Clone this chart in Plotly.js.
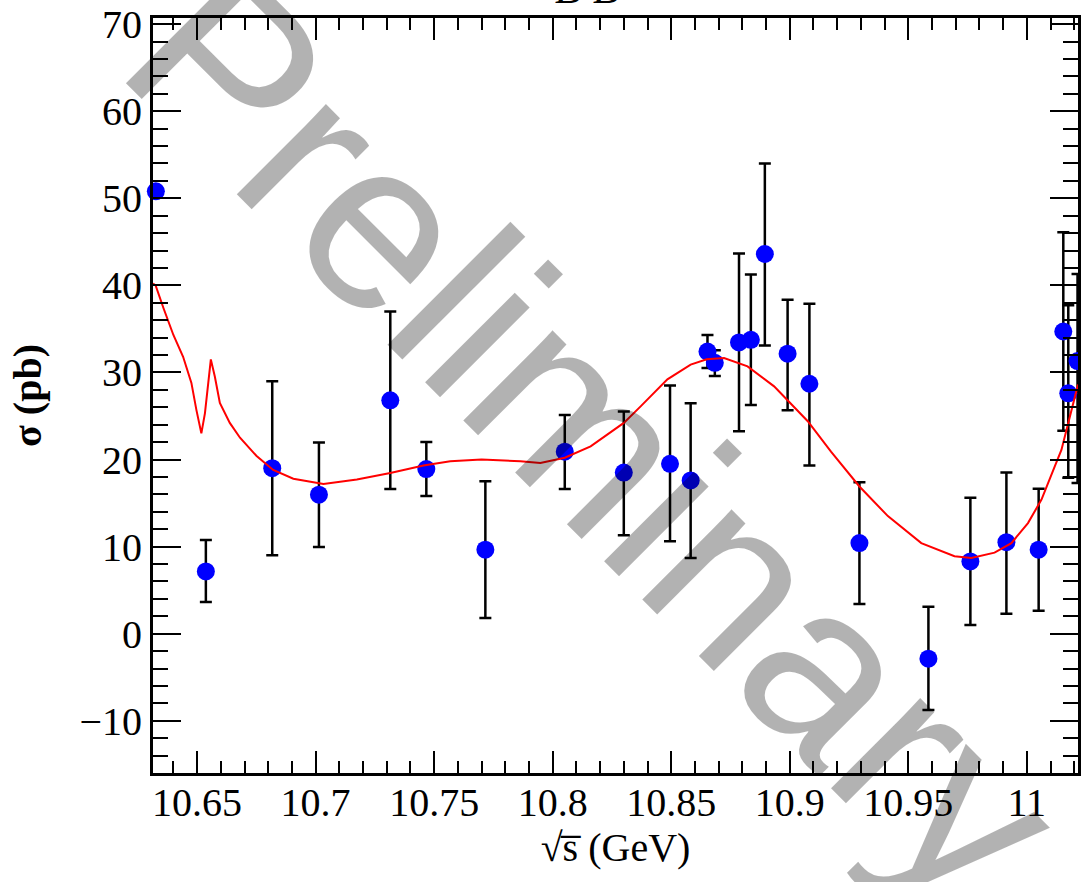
<!DOCTYPE html>
<html>
<head>
<meta charset="utf-8">
<script src="https://cdn.plot.ly/plotly-3.0.1.min.js"></script>
<style>html,body{margin:0;padding:0;background:#fff;}#chart{width:1081px;height:882px;}</style>
</head>
<body>
<div id="chart"></div>
<script>
// measured data points (sqrt(s) in GeV, sigma in pb)
const energy = [10.6326, 10.6537, 10.6817, 10.7014, 10.7315, 10.7467, 10.7716, 10.8051, 10.8300, 10.8495, 10.8582, 10.8653, 10.8684, 10.8786, 10.8836, 10.8895, 10.8991, 10.9083, 10.9294, 10.9585, 10.9762, 10.9914, 11.0050, 11.0154, 11.0175, 11.0214];
const sigma = [50.8, 7.15, 19.0, 15.96, 26.8, 18.9, 9.64, 20.9, 18.5, 19.5, 17.6, 32.4, 31.1, 33.45, 33.75, 43.6, 32.15, 28.7, 10.4, -2.87, 8.3, 10.5, 9.64, 34.7, 27.6, 31.3];
const errPlus = [0, 3.6, 10.0, 6.0, 10.2, 3.1, 7.85, 4.2, 7.0, 9.0, 8.85, 1.9, 1.45, 10.2, 7.5, 10.4, 6.2, 9.2, 7.0, 5.95, 7.3, 8.0, 7.0, 11.4, 10.1, 10.0];
const errMinus = [0, 3.5, 10.0, 6.0, 10.2, 3.1, 7.85, 4.3, 7.2, 8.9, 8.9, 1.9, 1.5, 10.2, 7.5, 10.5, 6.5, 9.4, 7.0, 5.9, 7.3, 8.2, 7.0, 11.4, 9.7, 14.0];

// fit curve
const fitX = [10.6314, 10.6325, 10.6358, 10.6400, 10.6441, 10.6476, 10.6497, 10.6518, 10.6533, 10.6547, 10.6558, 10.6575, 10.6596, 10.6638, 10.6681, 10.6751, 10.6821, 10.6906, 10.7033, 10.7174, 10.7315, 10.7455, 10.7568, 10.7700, 10.7864, 10.7948, 10.8051, 10.8160, 10.8300, 10.8371, 10.8484, 10.8582, 10.8650, 10.8723, 10.8822, 10.8934, 10.9076, 10.9174, 10.9294, 10.9414, 10.9555, 10.9695, 10.9766, 10.9864, 10.9935, 11.0005, 11.0062, 11.0118, 11.0146, 11.0216];
const fitY = [40.2, 40.0, 37.4, 34.3, 31.8, 28.8, 25.7, 23.0, 25.3, 28.8, 31.5, 29.5, 26.5, 24.2, 22.5, 20.4, 18.8, 17.8, 17.2, 17.7, 18.45, 19.3, 19.8, 20.0, 19.8, 19.6, 20.2, 21.5, 24.2, 26.1, 29.2, 30.9, 31.5, 31.65, 30.7, 28.4, 24.4, 20.9, 16.9, 13.5, 10.4, 8.9, 8.7, 9.3, 10.4, 12.7, 15.4, 19.2, 21.1, 28.6];

const serif = "Liberation Serif, Times New Roman, serif";

const traces = [
  {
    x: energy, y: sigma, type: 'scatter', mode: 'markers',
    marker: {color: '#0000ff', size: 18, symbol: 'circle'},
    error_y: {type: 'data', symmetric: false, array: errPlus, arrayminus: errMinus,
              color: '#000000', thickness: 2.5, width: 6},
    cliponaxis: false, showlegend: false, hoverinfo: 'skip'
  },
  {
    x: fitX, y: fitY, type: 'scatter', mode: 'lines',
    line: {color: '#ff0000', width: 2}, showlegend: false, hoverinfo: 'skip'
  }
];

const layout = {
  width: 1081, height: 882,
  margin: {l: 153, r: 3, t: 18, b: 109, pad: 0},
  paper_bgcolor: '#ffffff', plot_bgcolor: '#ffffff',
  font: {family: serif, size: 40, color: '#000'},
  showlegend: false,
  xaxis: {
    range: [10.6314, 11.0216], autorange: false,
    tickmode: 'linear', tick0: 10.65, dtick: 0.05,
    ticks: 'inside', ticklen: 22, tickwidth: 2, tickcolor: '#000',
    minor: {dtick: 0.01, ticks: 'inside', ticklen: 12, tickwidth: 2, tickcolor: '#000'},
    showline: true, linecolor: '#000', linewidth: 3, mirror: 'allticks',
    showgrid: false, zeroline: false, ticklabelstandoff: -8,
    tickfont: {family: serif, size: 40, color: '#000'},
    title: {text: '√s̅ (GeV)', font: {family: serif, size: 40, color: '#000'}, standoff: 4}
  },
  yaxis: {
    range: [-16.0, 70.7], autorange: false,
    tickmode: 'linear', tick0: 0, dtick: 10,
    ticks: 'inside', ticklen: 28, tickwidth: 2, tickcolor: '#000',
    minor: {dtick: 2, ticks: 'inside', ticklen: 15, tickwidth: 2, tickcolor: '#000'},
    showline: true, linecolor: '#000', linewidth: 3, mirror: 'allticks',
    showgrid: false, zeroline: false,
    tickfont: {family: serif, size: 40, color: '#000'},
    title: {text: '<b>σ (pb)</b>', font: {family: serif, size: 40, color: '#000'}, standoff: 26}
  },
  annotations: [
    {
      text: '<i>B B</i>', xref: 'paper', yref: 'paper', x: 0.47, y: 1.0044,
      xanchor: 'center', yanchor: 'bottom', showarrow: false,
      font: {family: serif, size: 44, color: '#000'}
    },
    {
      text: 'Preliminary', xref: 'paper', yref: 'paper', x: 0.478, y: 0.448,
      xanchor: 'center', yanchor: 'middle', showarrow: false, textangle: 45,
      font: {family: 'Liberation Sans, Arial, sans-serif', size: 240, color: 'rgba(0,0,0,0.3)'}
    }
  ]
};

Plotly.newPlot('chart', traces, layout, {staticPlot: true, displayModeBar: false});
</script>
</body>
</html>
